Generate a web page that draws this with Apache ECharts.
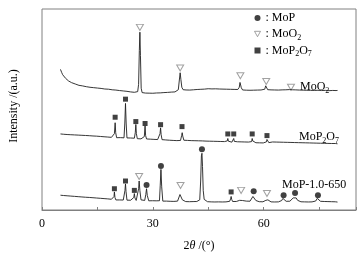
<!DOCTYPE html>
<html><head><meta charset="utf-8">
<script src="https://cdn.jsdelivr.net/npm/echarts@6/dist/echarts.min.js"></script>
<style>html,body{margin:0;padding:0;background:#fff}#c{width:362px;height:257px}</style>
</head><body><div id="c"></div>
<script>
// 2θ (°) vs intensity (a.u., offset curves)
const moo2Curve = [[5.0,1455],[5.3,1425],[5.6,1400],[6.0,1385],[6.4,1362],[6.8,1348],[7.2,1335],[7.6,1326],[8.0,1318],[8.5,1312],[9.0,1304],[9.5,1300],[10.0,1290],[10.5,1294],[11.0,1284],[11.5,1287],[12.0,1276],[12.5,1280],[13.0,1270],[13.5,1275],[14.0,1266],[14.5,1270],[15.0,1262],[15.5,1266],[16.0,1258],[16.5,1262],[17.0,1252],[17.5,1256],[18.0,1250],[18.5,1253],[19.0,1244],[19.5,1248],[20.0,1241],[20.5,1244],[21.0,1236],[21.5,1239],[22.0,1232],[22.5,1235],[23.0,1228],[23.5,1230],[24.0,1222],[24.5,1226],[25.0,1218],[25.5,1221],[25.9,1225],[26.15,1300],[26.35,1650],[26.5,1840],[26.65,1600],[26.85,1260],[27.1,1215],[27.5,1205],[28.0,1210],[28.5,1204],[29.0,1209],[29.5,1203],[30.0,1208],[30.5,1205],[31.0,1211],[31.5,1206],[32.0,1212],[32.5,1208],[33.0,1215],[33.5,1210],[34.0,1217],[34.5,1213],[35.0,1220],[35.5,1216],[36.0,1222],[36.5,1225],[36.9,1245],[37.15,1335],[37.4,1420],[37.6,1350],[37.85,1270],[38.2,1245],[38.6,1238],[39.0,1242],[39.5,1236],[40.0,1241],[40.5,1238],[41.0,1244],[41.5,1240],[42.0,1247],[42.5,1242],[43.0,1249],[43.5,1245],[44.0,1251],[44.5,1248],[45.0,1255],[45.5,1250],[46.0,1253],[46.5,1249],[47.0,1254],[47.5,1248],[48.0,1252],[48.5,1247],[49.0,1251],[49.5,1246],[50.0,1250],[50.5,1245],[51.0,1249],[51.5,1244],[52.0,1248],[52.5,1243],[53.0,1247],[53.4,1270],[53.6,1320],[53.75,1315],[53.95,1265],[54.3,1242],[54.8,1246],[55.3,1240],[55.8,1245],[56.3,1239],[56.8,1244],[57.3,1240],[57.8,1245],[58.3,1241],[58.8,1246],[59.3,1242],[59.8,1247],[60.3,1250],[60.55,1285],[60.7,1287],[60.85,1270],[61.1,1245],[61.5,1238],[62.0,1243],[62.5,1237],[63.0,1242],[63.5,1236],[64.0,1241],[64.5,1237],[65.0,1243],[65.5,1238],[66.0,1244],[66.5,1240],[67.0,1246],[67.3,1256],[67.5,1258],[67.8,1244],[68.2,1238],[68.7,1243],[69.2,1236],[69.7,1241],[70.2,1235],[70.7,1240],[71.2,1234],[71.7,1239],[72.2,1233],[72.7,1238],[73.2,1232],[73.7,1237],[74.2,1234],[74.7,1239],[75.2,1230],[75.7,1236],[76.2,1232],[76.7,1238],[77.2,1230],[77.7,1235],[78.2,1231],[78.7,1237],[79.2,1233],[79.6,1236],[80.0,1237]];

const mop2o7Curve = [[5.0,787],[5.4,780],[5.8,784],[6.3,776],[6.8,781],[7.3,774],[7.8,779],[8.3,772],[8.8,777],[9.3,770],[9.8,775],[10.3,768],[10.8,773],[11.3,766],[11.8,771],[12.3,764],[12.8,769],[13.3,762],[13.8,766],[14.3,759],[14.8,764],[15.3,756],[15.8,761],[16.3,754],[16.8,758],[17.3,751],[17.8,755],[18.3,749],[18.8,752],[19.3,747],[19.6,790],[19.8,903],[19.95,800],[20.2,748],[20.7,744],[21.2,749],[21.7,743],[22.2,747],[22.42,900],[22.6,1103],[22.78,900],[23.0,746],[23.5,741],[24.0,745],[24.5,739],[25.0,743],[25.25,800],[25.4,885],[25.55,790],[25.8,738],[26.3,742],[26.8,736],[27.3,740],[27.7,760],[27.9,870],[28.05,770],[28.3,735],[28.8,739],[29.3,733],[29.8,737],[30.3,731],[30.8,735],[31.3,729],[31.7,734],[31.95,790],[32.1,850],[32.25,780],[32.5,728],[33.0,732],[33.5,725],[34.0,729],[34.5,722],[35.0,727],[35.5,720],[36.0,725],[36.5,718],[37.0,723],[37.5,720],[37.8,770],[37.95,800],[38.1,765],[38.4,722],[38.9,715],[39.4,720],[39.9,713],[40.4,718],[40.9,712],[41.4,717],[41.9,711],[42.4,716],[42.9,710],[43.4,715],[43.9,708],[44.4,713],[44.9,707],[45.4,712],[45.9,706],[46.4,711],[46.9,705],[47.4,710],[47.9,704],[48.4,709],[48.9,703],[49.4,708],[49.9,704],[50.15,715],[50.3,740],[50.45,712],[50.9,707],[51.4,702],[51.75,712],[51.9,740],[52.05,710],[52.4,701],[52.9,706],[53.4,700],[53.9,705],[54.4,699],[54.9,704],[55.4,698],[55.9,703],[56.4,697],[56.75,708],[56.9,740],[57.05,715],[57.4,702],[57.9,696],[58.4,701],[58.9,695],[59.4,700],[59.9,694],[60.4,699],[60.75,705],[60.9,730],[61.05,712],[61.4,697],[61.9,699],[62.4,704],[62.9,698],[63.4,703],[63.9,697],[64.4,702],[64.9,696],[65.4,701],[65.9,695],[66.4,700],[66.9,694],[67.4,699],[67.9,693],[68.4,698],[68.9,692],[69.4,697],[69.9,691],[70.4,696],[70.9,690],[71.4,695],[71.9,689],[72.4,694],[72.9,688],[73.4,693],[73.9,687],[74.4,692],[74.9,686],[75.4,691],[75.9,685],[76.4,690],[76.9,684],[77.4,689],[77.9,684],[78.4,688],[78.9,683],[79.4,688],[80.0,685]];

const mopCurve = [[5.0,153],[5.4,146],[5.8,150],[6.3,143],[6.8,147],[7.3,140],[7.8,144],[8.3,137],[8.8,141],[9.3,134],[9.8,138],[10.3,131],[10.8,135],[11.3,128],[11.8,132],[12.3,126],[12.8,130],[13.3,123],[13.8,127],[14.3,120],[14.8,124],[15.3,117],[15.8,121],[16.3,114],[16.8,118],[17.3,111],[17.8,115],[18.3,108],[18.8,111],[19.3,106],[19.5,140],[19.6,187],[19.75,130],[20.0,104],[20.5,100],[21.0,104],[21.5,99],[22.0,103],[22.3,110],[22.45,200],[22.6,270],[22.75,190],[23.0,102],[23.5,97],[24.0,101],[24.5,96],[24.85,130],[25.0,170],[25.15,125],[25.5,99],[25.9,115],[26.15,220],[26.3,300],[26.5,200],[26.8,105],[27.3,96],[27.8,99],[28.1,160],[28.3,220],[28.5,150],[28.9,95],[29.4,92],[29.9,96],[30.4,91],[30.9,95],[31.4,90],[31.8,96],[32.0,250],[32.2,420],[32.4,240],[32.7,92],[33.2,88],[33.7,92],[34.2,86],[34.7,90],[35.2,85],[35.7,89],[36.2,86],[36.7,92],[37.1,110],[37.35,160],[37.5,170],[37.7,140],[38.0,105],[38.4,92],[38.9,87],[39.4,91],[39.9,86],[40.4,90],[40.9,87],[41.4,91],[41.9,88],[42.4,93],[42.7,105],[42.95,300],[43.15,560],[43.3,587],[43.45,450],[43.65,200],[43.9,110],[44.3,92],[44.8,86],[45.3,90],[45.8,84],[46.3,89],[46.8,83],[47.3,88],[47.8,84],[48.3,89],[48.8,83],[49.3,88],[49.8,84],[50.3,89],[50.8,90],[51.05,115],[51.2,140],[51.35,110],[51.6,88],[52.1,83],[52.6,88],[53.1,86],[53.5,100],[53.8,120],[54.0,118],[54.3,98],[54.8,88],[55.3,92],[55.8,86],[56.3,91],[56.8,95],[57.1,140],[57.3,153],[57.55,125],[57.9,98],[58.3,90],[58.8,86],[59.3,91],[59.8,85],[60.3,90],[60.6,100],[60.9,120],[61.15,105],[61.5,88],[62.0,84],[62.5,89],[63.0,83],[63.5,88],[64.0,84],[64.5,89],[64.9,98],[65.2,120],[65.4,125],[65.7,105],[66.1,90],[66.6,86],[67.1,91],[67.6,100],[68.0,125],[68.3,142],[68.5,145],[68.8,125],[69.2,100],[69.6,90],[70.1,85],[70.6,89],[71.1,84],[71.6,88],[72.1,83],[72.6,88],[73.1,84],[73.6,89],[74.1,93],[74.5,120],[74.75,135],[75.0,110],[75.4,90],[75.9,84],[76.4,88],[76.9,82],[77.4,87],[77.9,81],[78.4,86],[78.9,80],[79.4,85],[80.0,82]];

// phase markers [2θ, intensity]
const mopMarkers = [[28.3,260],[32.2,455],[43.3,628],[57.3,193],[65.4,153],[68.5,177],[74.7,153]];
const moo2Markers = [[26.5,1890],[37.4,1470],[53.7,1390],[60.7,1330],[67.4,1270],[26.3,347],[37.5,253],[53.9,203],[60.9,170]];
const mop2o7Markers = [[19.8,960],[22.6,1147],[25.4,915],[27.9,895],[32.1,883],[37.9,863],[50.3,787],[51.9,787],[56.9,787],[60.9,770],[19.6,220],[22.6,300],[25.0,203],[51.2,187]];

const xTickLabels = [0, 30, 60];
const FONT = 'Liberation Serif';

const chart = echarts.init(document.getElementById('c'), null, {renderer: 'canvas'});
const lineStyle = {color: '#1f1f1f', width: 0.9};
const sub = {fontSize: 8, fontFamily: FONT, color: '#000', padding: [7, 0, 0, 0]};
const txt = {fontSize: 12, fontFamily: FONT, color: '#000'};
const downTri = 'path://M0,0L10,0L5,9Z';
const triStyle = {color: '#fff', borderColor: '#8a8a8a', borderWidth: 1};

chart.setOption({
  animation: false,
  grid: {left: 40, right: 6, top: 9, bottom: 40, show: true, borderColor: '#808080', borderWidth: 1, backgroundColor: 'transparent'},
  xAxis: {
    type: 'value', min: 0, max: 85, interval: 15,
    axisLine: {show: true, lineStyle: {color: '#808080'}},
    axisTick: {show: true, inside: true, length: 3, lineStyle: {color: '#808080'}},
    splitLine: {show: false},
    axisLabel: {color: '#000', fontFamily: FONT, fontSize: 12, margin: 8,
      formatter: v => xTickLabels.includes(v) ? String(v) : ''},
    name: '2{i|θ} /(°)', nameLocation: 'middle', nameGap: 30,
    nameTextStyle: {color: '#000', fontFamily: FONT, fontSize: 12,
      rich: {i: {fontStyle: 'italic', fontFamily: FONT, fontSize: 12, color: '#000'}}}
  },
  yAxis: {
    type: 'value', min: 0, max: 2080,
    axisLine: {show: false}, axisTick: {show: false}, axisLabel: {show: false}, splitLine: {show: false},
    name: 'Intensity /(a.u.)', nameLocation: 'middle', nameGap: 22, nameRotate: 90,
    nameTextStyle: {color: '#000', fontFamily: FONT, fontSize: 12, padding: [0, 0, 0, 7]}
  },
  legend: {
    orient: 'vertical', left: 249, top: 6, itemGap: 2, itemWidth: 6, itemHeight: 6,
    data: [
      {name: 'MoP', icon: 'circle'},
      {name: 'MoO2', icon: downTri, itemStyle: triStyle},
      {name: 'MoP2O7', icon: 'rect'}
    ],
    textStyle: {fontFamily: FONT, fontSize: 12, color: '#000', lineHeight: 14,
      rich: {n: txt, s: sub}},
    formatter: function (name) {
      if (name === 'MoP') return '{n|: MoP}';
      if (name === 'MoO2') return '{n|: MoO}{s|2}';
      return '{n|: MoP}{s|2}{n|O}{s|7}';
    }
  },
  series: [
    {type: 'line', data: moo2Curve, showSymbol: false, lineStyle, silent: true},
    {type: 'line', data: mop2o7Curve, showSymbol: false, lineStyle, silent: true},
    {type: 'line', data: mopCurve, showSymbol: false, lineStyle, silent: true},
    {name: 'MoP', type: 'scatter', data: mopMarkers, symbol: 'circle', symbolSize: 6,
      itemStyle: {color: '#111'}},
    {name: 'MoO2', type: 'scatter', data: moo2Markers, symbol: downTri, symbolSize: [7, 6],
      itemStyle: triStyle},
    {name: 'MoP2O7', type: 'scatter', data: mop2o7Markers, symbol: 'rect', symbolSize: 5,
      itemStyle: {color: '#111'}}
  ],
  graphic: [
    {type: 'text', left: 300, top: 81, style: {text: '{n|MoO}{s|2}', rich: {n: txt, s: sub}}},
    {type: 'text', left: 299, top: 131, style: {text: '{n|MoP}{s|2}{n|O}{s|7}', rich: {n: txt, s: sub}}},
    {type: 'text', left: 282, top: 179, style: {text: 'MoP-1.0-650', font: '12px "Liberation Serif"', fill: '#000'}}
  ]
});
</script></body></html>
